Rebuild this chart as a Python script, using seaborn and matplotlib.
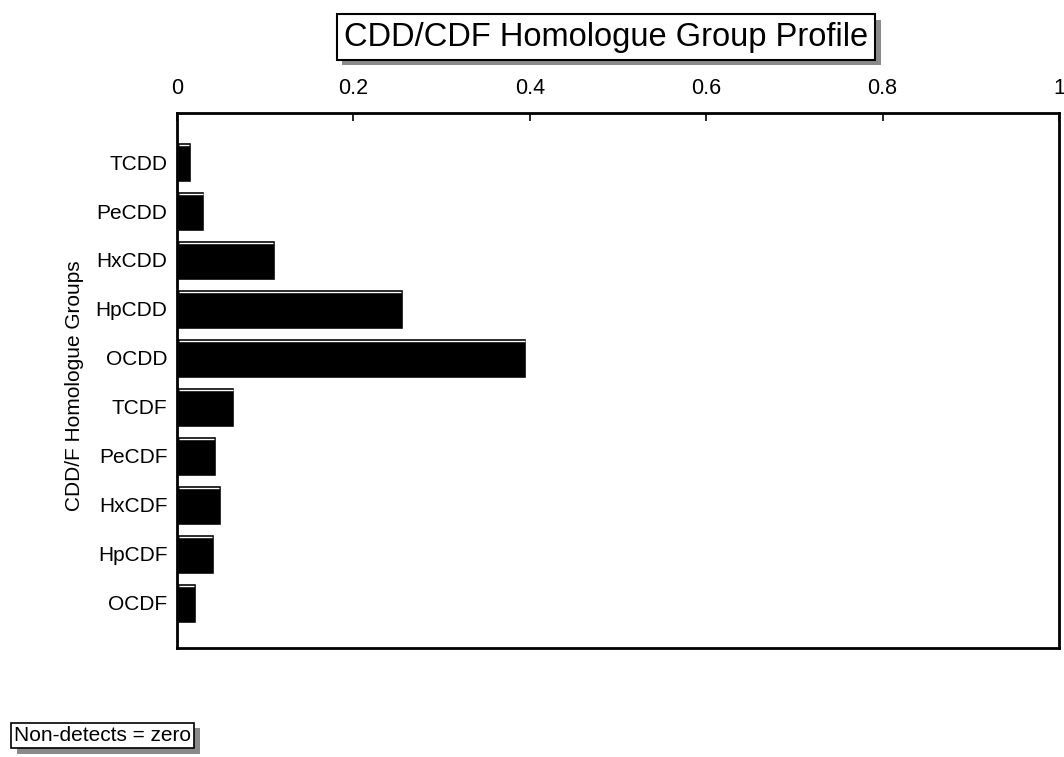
import matplotlib
matplotlib.use("Agg")
import matplotlib.pyplot as plt
import matplotlib.patheffects as pe
import pandas as pd
import seaborn as sns

groups = ["TCDD", "PeCDD", "HxCDD", "HpCDD", "OCDD",
          "TCDF", "PeCDF", "HxCDF", "HpCDF", "OCDF"]
fractions = [0.016, 0.031, 0.111, 0.256, 0.396,
             0.065, 0.044, 0.050, 0.042, 0.021]
x_ticks = [0, 0.2, 0.4, 0.6, 0.8, 1]
x_tick_labels = ["0", "0.2", "0.4", "0.6", "0.8", "1"]

sns.set_theme(style="white")
plt.rcParams["font.family"] = ["Liberation Sans", "DejaVu Sans"]

df = pd.DataFrame({"group": groups, "fraction": fractions})

fig = plt.figure(figsize=(10.64, 7.57), dpi=100)
ax = fig.add_axes([0.1664, 0.144, 0.8289, 0.7067])

sns.barplot(data=df, x="fraction", y="group", color="black",
            width=0.82, saturation=1, ax=ax)

# thin highlight line near the top of every bar (3D look)
for p in ax.patches:
    y = p.get_y() + 0.07
    ax.plot([p.get_x() + 0.002, p.get_x() + p.get_width() - 0.002], [y, y],
            color="white", lw=1.0, solid_capstyle="butt")

ax.set_xlim(0, 1)
ax.set_ylim(len(groups) - 0.08, -1)
ax.xaxis.tick_top()
ax.set_xticks(x_ticks)
ax.set_xticklabels(x_tick_labels)
ax.tick_params(axis="x", direction="in", length=6, width=1.2, pad=10,
               labelsize=15.5, top=True, bottom=False, colors="black")
ax.tick_params(axis="y", length=0, pad=7, labelsize=15, colors="black")
ax.set_xlabel("")
ax.set_ylabel("CDD/F Homologue Groups", fontsize=15, color="black")
ax.yaxis.set_label_coords(-0.106, 0.49)

for s in ax.spines.values():
    s.set_visible(True)
    s.set_color("black")
    s.set_linewidth(2)

shadow = [pe.SimplePatchShadow(offset=(4, -4), shadow_rgbFace="#8a8a8a", alpha=1), pe.Normal()]

# title box with drop shadow
t = fig.text(0.5695, 0.951, "CDD/CDF Homologue Group Profile", fontsize=23.5,
             ha="center", va="center", color="black",
             bbox=dict(boxstyle="square,pad=0.22", fc="white", ec="black", lw=1.5))
t.get_bbox_patch().set_path_effects(shadow)

# footnote box with drop shadow
n = fig.text(0.0135, 0.0285, "Non-detects = zero", fontsize=15, ha="left", va="center",
             color="black",
             bbox=dict(boxstyle="square,pad=0.15", fc="white", ec="black", lw=1.2))
n.get_bbox_patch().set_path_effects(shadow)

fig.savefig("out.png", dpi=100, facecolor="white")
